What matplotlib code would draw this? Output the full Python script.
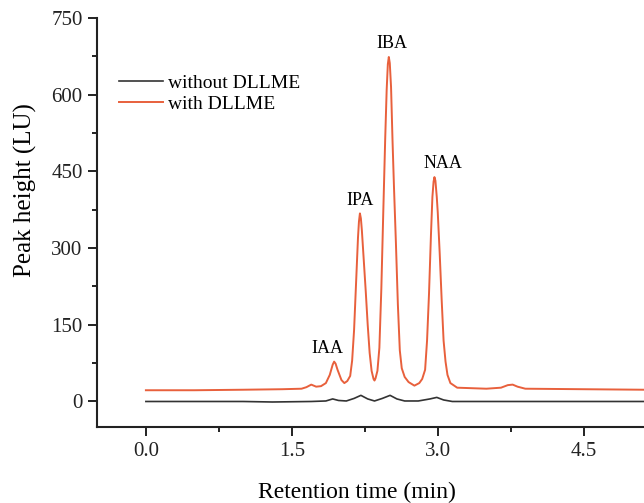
import matplotlib.pyplot as plt
from matplotlib.ticker import MultipleLocator

plt.rcParams['font.family'] = ['Liberation Serif', 'DejaVu Serif']

# retention time (min) and peak height (LU)
t_with = [0.00, 0.50, 1.00, 1.40, 1.60, 1.65, 1.70, 1.75, 1.80, 1.85, 1.89, 1.92, 1.935,
          1.95, 1.97, 2.01, 2.04, 2.07, 2.10, 2.12, 2.14, 2.16, 2.18, 2.19, 2.20, 2.21,
          2.22, 2.24, 2.26, 2.28, 2.30, 2.32, 2.34, 2.35, 2.36, 2.38, 2.40, 2.42, 2.44,
          2.46, 2.475, 2.487, 2.497, 2.507, 2.52, 2.535, 2.55, 2.57, 2.59, 2.61, 2.63,
          2.66, 2.70, 2.76, 2.81, 2.84, 2.87, 2.89, 2.91, 2.93, 2.945, 2.957, 2.966,
          2.976, 2.99, 3.00, 3.02, 3.04, 3.06, 3.08, 3.10, 3.13, 3.20, 3.50, 3.65,
          3.72, 3.77, 3.82, 3.90, 4.50, 5.12]
v_with = [22, 22, 23, 24, 25, 28, 33, 29, 30, 36, 52, 72, 78,
          74, 62, 42, 36, 40, 50, 80, 140, 230, 320, 352, 368, 358,
          335, 275, 215, 150, 95, 60, 44, 41, 45, 60, 105, 220, 370,
          515, 610, 660, 674, 662, 615, 511, 420, 310, 190, 100, 65,
          48, 38, 31, 36, 44, 62, 119, 210, 325, 400, 430, 439,
          432, 400, 370, 290, 200, 119, 78, 52, 36, 27, 25, 27,
          32, 33, 29, 25, 24, 23]

t_without = [0.00, 1.00, 1.30, 1.70, 1.85, 1.92, 1.98, 2.06, 2.14, 2.21, 2.28, 2.35,
             2.43, 2.51, 2.58, 2.66, 2.80, 2.92, 2.99, 3.06, 3.15, 5.12]
v_without = [0, 0, -1, 0, 1, 5, 2, 1, 6, 12, 5, 1,
             6, 12, 5, 1, 1, 5, 8, 3, 0, 0]

peak_names = ["IAA", "IPA", "IBA", "NAA"]
peak_label_t = [1.87, 2.20, 2.53, 3.05]
peak_label_v = [104, 394, 700, 465]

fig = plt.figure(figsize=(6.44, 5.03), dpi=100)
ax = fig.add_axes([0.151, 0.151, 0.849, 0.813])

ax.plot(t_without, v_without, color="#333333", lw=1.2, label="without DLLME")
ax.plot(t_with, v_with, color="#E8603C", lw=1.4, label="with DLLME")

for name, x, y in zip(peak_names, peak_label_t, peak_label_v):
    ax.text(x, y, name, ha="center", va="center", fontsize=13)

ax.set_xlim(-0.5, 5.12)
ax.set_ylim(-50, 750)
ax.xaxis.set_major_locator(MultipleLocator(1.5))
ax.xaxis.set_minor_locator(MultipleLocator(0.75))
ax.yaxis.set_major_locator(MultipleLocator(150))
ax.yaxis.set_minor_locator(MultipleLocator(75))
ax.xaxis.set_major_formatter(plt.FormatStrFormatter("%.1f"))
ax.tick_params(which="major", direction="out", length=6.5, width=1.4, labelsize=15,
               pad=4, colors="#222222")
ax.tick_params(which="minor", direction="out", length=3.5, width=1.4, colors="#222222")

for s in ["top", "right"]:
    ax.spines[s].set_visible(False)
for s in ["left", "bottom"]:
    ax.spines[s].set_linewidth(1.5)
    ax.spines[s].set_color("#222222")

ax.set_xlabel("Retention time (min)", fontsize=17)
ax.set_ylabel("Peak height (LU)", fontsize=18)
ax.xaxis.set_label_coords(0.475, -0.135)
ax.yaxis.set_label_coords(-0.111, 0.58)

ax.legend(loc="upper left", bbox_to_anchor=(0.007, 0.905), frameon=False, fontsize=14,
          handlelength=2.3, handletextpad=0.25, labelspacing=0.15)

fig.savefig("out.png", dpi=100)
